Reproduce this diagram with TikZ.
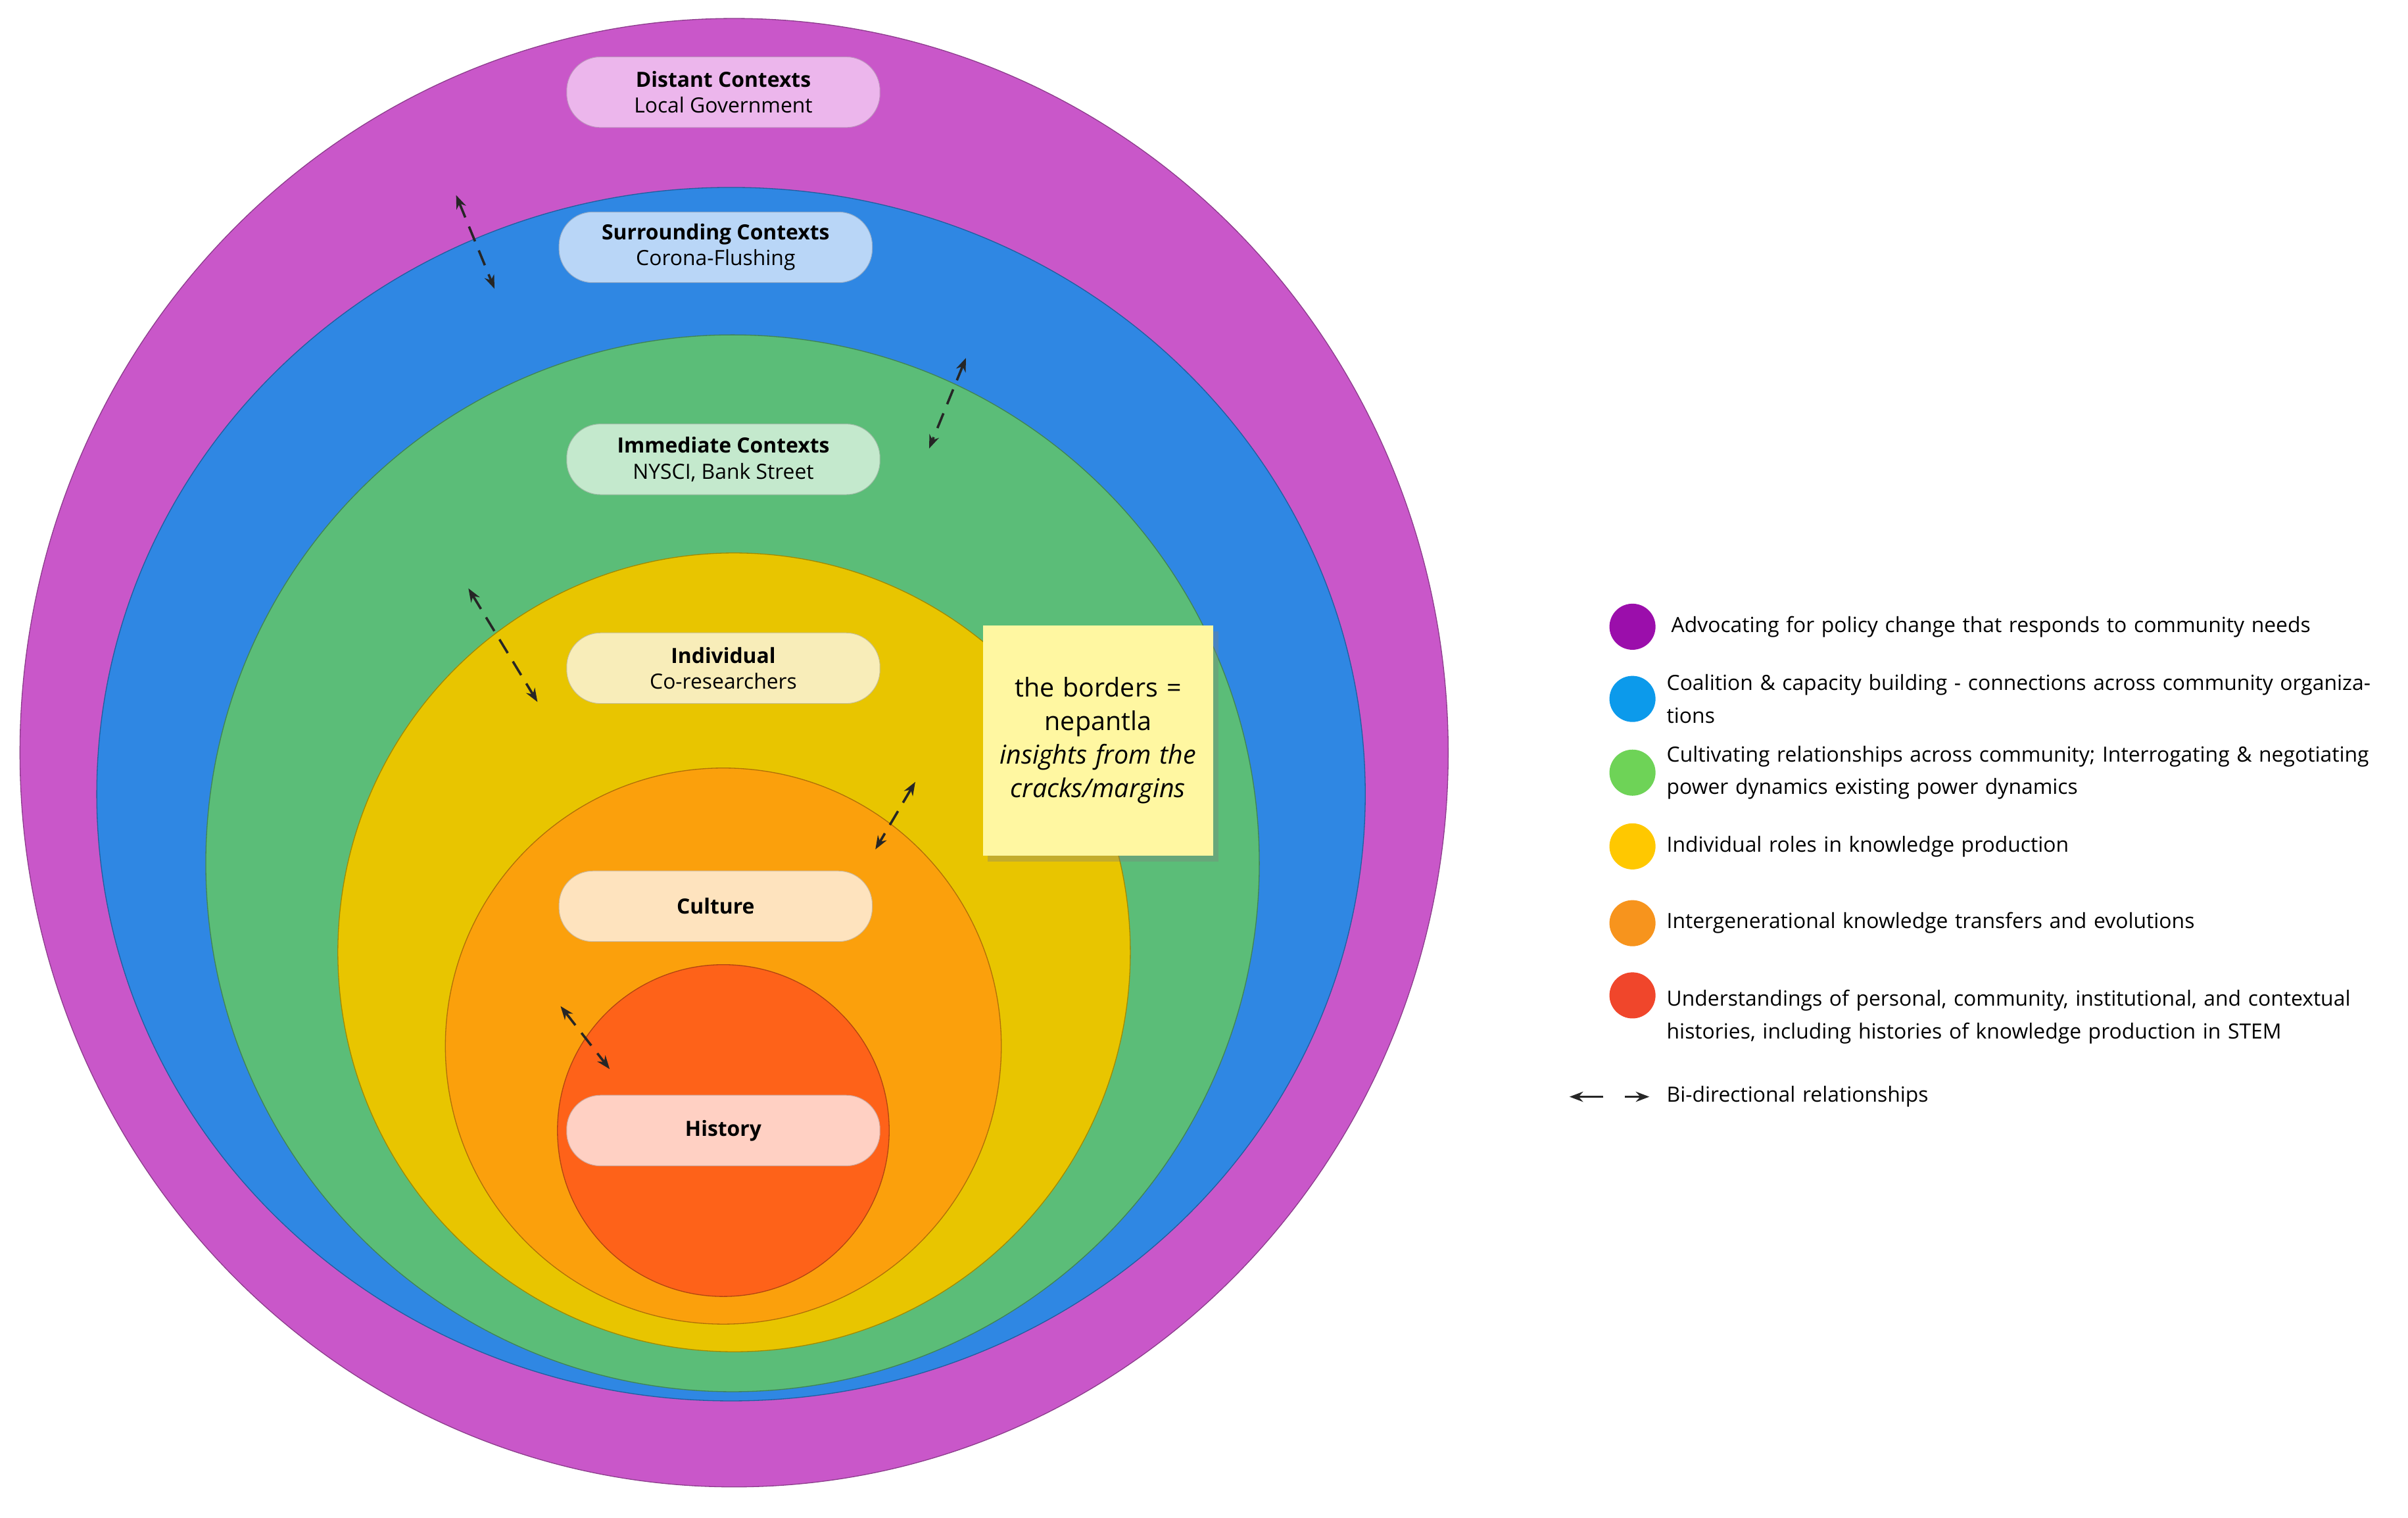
\documentclass[tikz,border=0pt]{standalone}
\usepackage{fontspec}
\setmainfont{Open Sans}
\usetikzlibrary{arrows.meta,shadows}

\definecolor{ringpurple}{HTML}{C957C9}
\definecolor{ringblue}{HTML}{2F87E3}
\definecolor{ringgreen}{HTML}{5BBD78}
\definecolor{ringyellow}{HTML}{E8C500}
\definecolor{ringorange}{HTML}{FBA00C}
\definecolor{ringred}{HTML}{FE6219}
\definecolor{keypurple}{HTML}{9B0EAB}
\definecolor{keyblue}{HTML}{0C9AEB}
\definecolor{keygreen}{HTML}{6ED357}
\definecolor{keyyellow}{HTML}{FFC800}
\definecolor{keyorange}{HTML}{F7941D}
\definecolor{keyred}{HTML}{F0462B}
\definecolor{pillpurple}{HTML}{ECB6EC}
\definecolor{pillblue}{HTML}{B9D6F7}
\definecolor{pillgreen}{HTML}{C4E9CD}
\definecolor{pillyellow}{HTML}{F8EDB9}
\definecolor{pillorange}{HTML}{FEE3BE}
\definecolor{pillred}{HTML}{FFD0C3}
\definecolor{notefill}{HTML}{FFF7A1}

\begin{document}
\begin{tikzpicture}[
    font=\fontsize{9.7}{15}\selectfont,
    ring/.style={draw=#1!70!black, line width=0.4pt, fill=#1},
    pill/.style={rounded corners=0.55cm, draw=#1!80!black, line width=0.3pt, fill=#1,
        minimum width=5.1cm, minimum height=1.15cm, align=center, inner sep=2pt},
    key dot/.style={circle, fill=#1, minimum size=0.75cm, inner sep=0pt},
    key text/.style={anchor=west, text width=11.8cm, align=left, inner sep=0pt},
    link/.style={{Stealth[length=2.2mm]}-{Stealth[length=2.2mm]}, line width=1.1pt,
        dash pattern=on 2.6mm off 1.6mm, black!85}
]
\useasboundingbox (0,0) rectangle (39.2,-24.7);

% Rings
\draw[ring=ringpurple] (11.95,-12.25) ellipse [x radius=11.625cm, y radius=11.95cm];
\draw[ring=ringblue] (11.9,-12.925) ellipse [x radius=10.325cm, y radius=9.875cm];
\draw[ring=ringgreen] (11.925,-14.05) ellipse [x radius=8.575cm, y radius=8.6cm];
\draw[ring=ringyellow] (11.95,-15.5) ellipse [x radius=6.45cm, y radius=6.5cm];
\draw[ring=ringorange] (11.775,-17.025) circle [radius=4.525cm];
\draw[ring=ringred] (11.775,-18.4) circle [radius=2.7cm];

% Labels
\node[pill=pillpurple] (distant) at (11.775,-1.5)
    {\textbf{Distant Contexts}\\[-3pt]Local Government};
\node[pill=pillblue] (surrounding) at (11.65,-4.025)
    {\textbf{Surrounding Contexts}\\[-3pt]Corona-Flushing};
\node[pill=pillgreen] (immediate) at (11.775,-7.475)
    {\textbf{Immediate Contexts}\\[-3pt]NYSCI, Bank Street};
\node[pill=pillyellow] (individual) at (11.775,-10.875)
    {\textbf{Individual}\\[-3pt]Co-researchers};
\node[pill=pillorange] (culture) at (11.65,-14.75)
    {\textbf{Culture}};
\node[pill=pillred] (history) at (11.775,-18.4)
    {\textbf{History}};

% Note
\node[fill=notefill, minimum width=3.75cm, minimum height=3.75cm, text width=3.4cm,
    align=center, font=\fontsize{12}{15.5}\selectfont,
    drop shadow={shadow xshift=0.8mm, shadow yshift=-1mm, opacity=0.35}] (note)
    at (17.875,-12.05) {the borders =\\ nepantla\\ \textit{insights from the cracks/margins}};

% Border links
\coordinate (a1) at (7.425,-3.175);  \coordinate (b1) at (8.05,-4.7);
\coordinate (a2) at (15.725,-5.825); \coordinate (b2) at (15.125,-7.3);
\coordinate (a3) at (7.625,-9.575);  \coordinate (b3) at (8.75,-11.425);
\coordinate (a4) at (14.9,-12.725);  \coordinate (b4) at (14.25,-13.825);
\coordinate (a5) at (9.125,-16.375); \coordinate (b5) at (9.925,-17.4);
\foreach \i in {1,...,5}
    \draw[link] (a\i) -- (b\i);

% Legend
\node[key dot=keypurple] (k1) at (26.575,-10.2) {};
\node[key text] at (27.2,-10.2) {Advocating for policy change that responds to community needs};
\node[key dot=keyblue] (k2) at (26.575,-11.375) {};
\node[key text] at (27.125,-11.375) {Coalition \& capacity building - connections across community organizations};
\node[key dot=keygreen] (k3) at (26.575,-12.575) {};
\node[key text] at (27.125,-12.575) {Cultivating relationships across community; Interrogating \& negotiating power dynamics existing power dynamics};
\node[key dot=keyyellow] (k4) at (26.575,-13.775) {};
\node[key text] at (27.125,-13.775) {Individual roles in knowledge production};
\node[key dot=keyorange] (k5) at (26.575,-15.025) {};
\node[key text] at (27.125,-15.025) {Intergenerational knowledge transfers and evolutions};
\node[key dot=keyred] (k6) at (26.575,-16.2) {};
\node[key text] at (27.125,-16.55) {Understandings of personal, community, institutional, and contextual histories, including histories of knowledge production in STEM};

\coordinate (la) at (26.1,-17.85); \coordinate (lb) at (25.55,-17.85);
\coordinate (ra) at (26.45,-17.85); \coordinate (rb) at (26.85,-17.85);
\draw[-{Stealth[length=2.2mm]}, line width=1.1pt, black!85] (la) -- (lb);
\draw[-{Stealth[length=2.2mm]}, line width=1.1pt, black!85] (ra) -- (rb);
\node[key text] at (27.125,-17.85) {Bi-directional relationships};

\end{tikzpicture}
\end{document}
